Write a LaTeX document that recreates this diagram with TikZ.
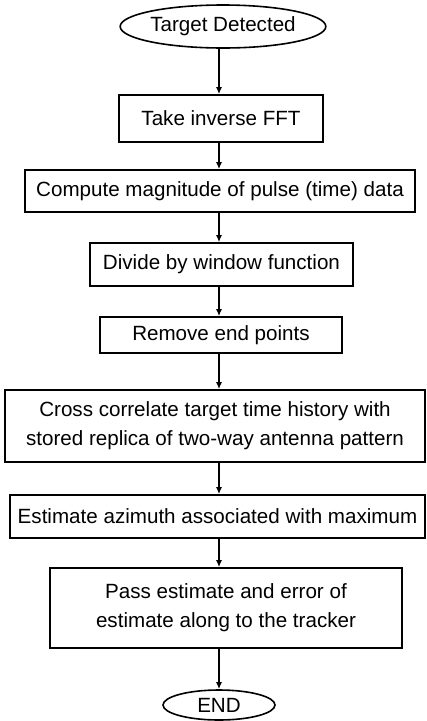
\documentclass[tikz,border=0pt]{standalone}
\usepackage{fontspec}
\setmainfont{Liberation Sans}
\usetikzlibrary{arrows.meta,shapes.geometric}

\begin{document}
\begin{tikzpicture}[x=1pt,y=-1pt,
    proc/.style={draw, line width=1.6pt, inner sep=0pt, align=center,
      font=\fontsize{20.6}{29}\selectfont},
    term/.style={proc, ellipse},
    flow/.style={-{Latex[length=7pt,width=6pt]}, line width=1.6pt}]
    \useasboundingbox (0,0) rectangle (427,721);
    \coordinate (axis) at (219,0);
    % terminals and steps, top to bottom
    \node[term, minimum width=204pt, minimum height=43pt] (start) at (223,26.5) {Target Detected};
    \node[proc, minimum width=204pt, minimum height=47pt] (fft) at (221,118.5) {Take inverse FFT};
    \node[proc, minimum width=390pt, minimum height=42pt] (mag) at (220,191) {Compute magnitude of pulse (time) data};
    \node[proc, minimum width=263pt, minimum height=43pt] (div) at (221.5,264.5) {Divide by window function};
    \node[proc, minimum width=242pt, minimum height=36pt] (rem) at (221,335) {Remove end points};
    \node[proc, minimum width=420pt, minimum height=72pt] (xcorr) at (215,426) {Cross correlate target time history with\\stored replica of two-way antenna pattern};
    \node[proc, minimum width=415pt, minimum height=43pt] (azim) at (217.5,516.5) {Estimate azimuth associated with maximum};
    \node[proc, minimum width=352pt, minimum height=80pt] (pass) at (226,608) {Pass estimate and error of\\estimate along to the tracker};
    \node[term, minimum width=112pt, minimum height=30pt] (stop) at (219,705) {END};
    % connectors
    \draw[flow] (start.south -| axis) -- (fft.north -| axis);
    \draw[flow] (fft.south -| axis) -- (mag.north -| axis);
    \draw[flow] (mag.south -| axis) -- (div.north -| axis);
    \draw[flow] (div.south -| axis) -- (rem.north -| axis);
    \draw[flow] (rem.south -| axis) -- (xcorr.north -| axis);
    \draw[flow] (xcorr.south -| axis) -- (azim.north -| axis);
    \draw[flow] (azim.south -| axis) -- (pass.north -| axis);
    \draw[flow] (pass.south -| axis) -- (stop.north -| axis);
\end{tikzpicture}
\end{document}
